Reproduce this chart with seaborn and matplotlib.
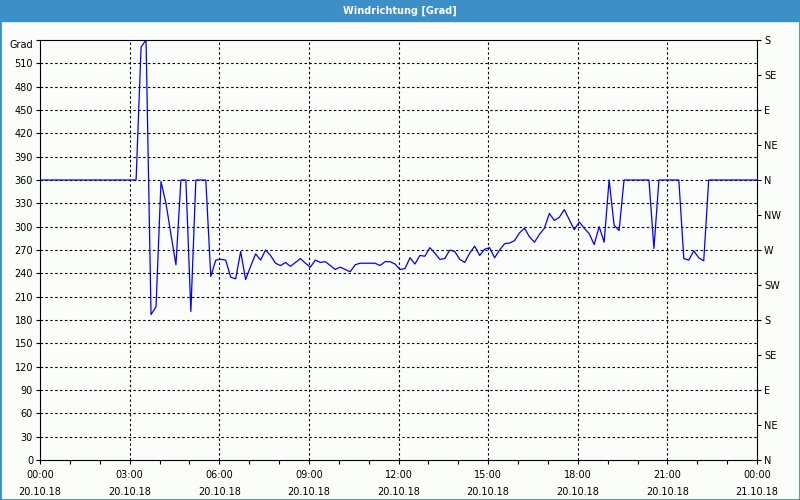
import numpy as np
import pandas as pd
import matplotlib
matplotlib.use("Agg")
import matplotlib.pyplot as plt
from matplotlib.patches import Rectangle
import seaborn as sns

# ---- data (10-minute samples, 20.10.18 00:03 -> 21.10.18 00:03) ----
direction_deg = (
    [360] * 20
    + [531, 540, 187, 197, 358, 330, 290, 251, 360, 360,
       191, 360, 360, 360, 236, 257, 258, 257, 235, 233,
       268, 232, 249, 265, 257, 270, 263, 253, 250, 254,
       249, 254, 259, 253, 248, 257, 254, 255, 250, 245,
       248, 245, 242, 251, 253, 253, 253, 253, 250, 255,
       255, 252, 245, 246, 260, 252, 263, 262, 273, 266,
       258, 259, 270, 268, 258, 254, 266, 275, 263, 271,
       273, 260, 270, 278, 279, 282, 292, 298, 287, 280,
       290, 298, 317, 308, 312, 322, 309, 296, 306, 298,
       291, 277, 300, 280, 360, 302, 295, 360, 360, 360,
       360, 360, 360, 272, 360, 360, 360, 360, 360, 259,
       257, 269, 260, 256]
    + [360] * 11
)
sample_minutes = 10
first_sample_minute = 3

x_tick_labels = ["00:00\n20.10.18", "03:00\n20.10.18", "06:00\n20.10.18",
                 "09:00\n20.10.18", "12:00\n20.10.18", "15:00\n20.10.18",
                 "18:00\n20.10.18", "21:00\n20.10.18", "00:00\n21.10.18"]
left_tick_values = list(range(0, 541, 30))
left_tick_labels = [str(v) for v in left_tick_values[:-1]] + ["Grad"]
compass_values = list(range(0, 541, 45))
compass_labels = ["N", "NE", "E", "SE", "S", "SW", "W", "NW",
                  "N", "NE", "E", "SE", "S"]
title = "Windrichtung [Grad]"

hours = (first_sample_minute + np.arange(len(direction_deg)) * sample_minutes) / 60.0
df = pd.DataFrame({"hours": hours, "deg": direction_deg})

# ---- figure ----
sns.set_theme(style="white")
plt.rcParams["font.family"] = ["DejaVu Sans"]
bg = "#fbfdfb"
frame_blue = "#3d8fc7"

fig = plt.figure(figsize=(8, 5), dpi=100, facecolor=bg)
ax = fig.add_axes([40 / 800, 1 - 460 / 500, 717 / 800, 420 / 500])
ax.set_facecolor(bg)

sns.lineplot(data=df, x="hours", y="deg", ax=ax, color="#0000ff",
             linewidth=0.9, estimator=None, sort=False)

ax.set_xlim(0, 24)
ax.set_ylim(0, 540)
ax.set_xlabel("")
ax.set_ylabel("")

ax.set_xticks(np.arange(0, 25, 3))
ax.set_xticklabels(x_tick_labels, fontsize=7, linespacing=1.85)
ax.set_xticks(np.arange(0, 25, 1), minor=True)
ax.set_yticks(left_tick_values)
ax.set_yticklabels(left_tick_labels, fontsize=7)
ax.get_yticklabels()[-1].set_va("top")

ax.tick_params(axis="both", which="both", direction="out", length=3,
               width=0.8, color="black", labelcolor="black", pad=2)
ax.tick_params(axis="x", which="major", pad=4)
ax.tick_params(left=True, bottom=True)
ax.tick_params(axis="x", which="minor", bottom=True)

grid_style = dict(color="black", linewidth=0.8, linestyle=(0, (2.2, 2.2)))
ax.grid(False)
for h in range(3, 24, 3):
    ax.axvline(h, zorder=0.5, **grid_style)
for v in range(30, 540, 30):
    ax.axhline(v, zorder=0.5, **grid_style)

for s in ax.spines.values():
    s.set_visible(True)
    s.set_color("black")
    s.set_linewidth(0.8)

ax2 = ax.twinx()
ax2.set_ylim(0, 540)
ax2.set_yticks(compass_values)
ax2.set_yticklabels(compass_labels, fontsize=7)
ax2.tick_params(axis="y", direction="out", length=3, width=0.8,
                color="black", labelcolor="black", pad=2, right=True)
ax2.grid(False)
for s in ax2.spines.values():
    s.set_visible(False)

# title bar and window frame
fig.patches.append(Rectangle((0, 1 - 21 / 500), 1, 21 / 500,
                             transform=fig.transFigure, color=frame_blue,
                             zorder=0))
fig.patches.append(Rectangle((0, 0), 1, 1, transform=fig.transFigure,
                             fill=False, edgecolor=frame_blue, linewidth=2,
                             zorder=0))
fig.text(0.5, 1 - 10.5 / 500, title, color="white", fontsize=7,
         fontweight="bold", ha="center", va="center")

fig.savefig("out.png", dpi=100, facecolor=bg)
